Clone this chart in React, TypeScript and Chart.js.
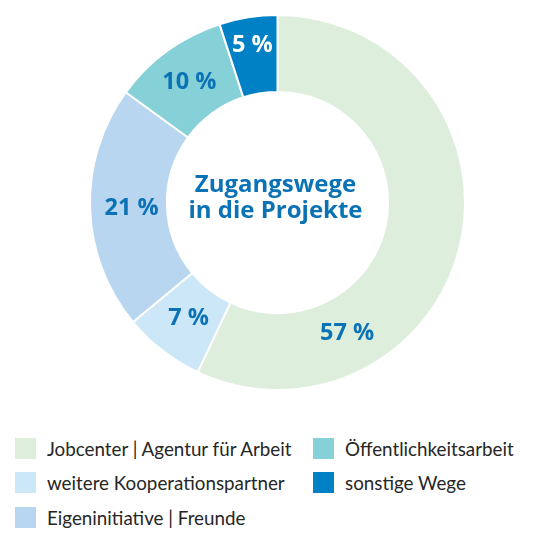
import React, { useEffect, useRef } from "react";
import { Chart, registerables } from "chart.js";

Chart.register(...registerables);

const categories = [
  "Jobcenter | Agentur für Arbeit",
  "weitere Kooperationspartner",
  "Eigeninitiative | Freunde",
  "Öffentlichkeitsarbeit",
  "sonstige Wege",
];
const values = [57, 7, 21, 10, 5];
const valueLabels = ["57 %", "7 %", "21 %", "10 %", "5 %"];
const colors = ["#DDEEDC", "#CCE7F7", "#B8D6EF", "#86D0D8", "#0081C6"];
const labelColors = ["#0B72B5", "#0B72B5", "#0B72B5", "#0B72B5", "#FFFFFF"];
const labelAngleFrac = [0.74, 0.5, 0.5, 0.5, 0.5];
const labelRadiusFrac = [0.48, 0.45, 0.46, 0.51, 0.65];
const centerTitle = ["Zugangswege", "in die Projekte"];

const BLUE = "#0B72B5";
const FONT = "'Open Sans', 'Noto Sans', sans-serif";
const LEGEND_FONT = "Lato, 'Open Sans', sans-serif";

const labelPlugin = {
  id: "donutLabels",
  afterDatasetsDraw(chart: any) {
    const ctx = chart.ctx;
    const meta = chart.getDatasetMeta(0);
    ctx.save();
    ctx.textAlign = "center";
    ctx.textBaseline = "middle";
    ctx.font = `bold 23.5px ${FONT}`;
    meta.data.forEach((arc: any, i: number) => {
      const p = arc.getProps(["x", "y", "startAngle", "endAngle", "innerRadius", "outerRadius"], true);
      const a = p.startAngle + (p.endAngle - p.startAngle) * labelAngleFrac[i];
      const r = p.innerRadius + (p.outerRadius - p.innerRadius) * labelRadiusFrac[i];
      ctx.fillStyle = labelColors[i];
      ctx.fillText(valueLabels[i], p.x + Math.cos(a) * r, p.y + Math.sin(a) * r + 1);
    });
    const c = meta.data[0];
    ctx.fillStyle = BLUE;
    ctx.textBaseline = "alphabetic";
    ctx.font = `bold 24px ${FONT}`;
    ctx.fillText(centerTitle[0], c.x - 2, c.y - 11);
    ctx.fillText(centerTitle[1], c.x - 2, c.y + 15.5);
    ctx.restore();
  },
};

export default function App() {
  const ref = useRef<HTMLCanvasElement | null>(null);
  useEffect(() => {
    if (!ref.current) return;
    const chart = new Chart(ref.current, {
      type: "doughnut",
      data: {
        labels: categories,
        datasets: [
          {
            data: values,
            backgroundColor: colors,
            borderColor: "#FFFFFF",
            borderWidth: 2,
          },
        ],
      },
      options: {
        responsive: false,
        animation: false,
        cutout: "59%",
        rotation: 0,
        layout: { padding: 14 },
        plugins: {
          legend: { display: false },
          tooltip: { enabled: false },
        },
      },
      plugins: [labelPlugin],
    });
    return () => chart.destroy();
  }, []);

  return (
    <div style={{ position: "absolute", left: 0, top: 0, width: 551, height: 541, background: "#fff", overflow: "hidden" }}>
      <canvas ref={ref} width={555} height={405} style={{ position: "absolute", left: 0, top: 0 }} />
      <div
        style={{
          position: "absolute",
          left: 15,
          top: 431,
          display: "grid",
          gridAutoFlow: "column",
          gridTemplateRows: "repeat(3, 34.5px)",
          gridTemplateColumns: "298px auto",
          fontFamily: LEGEND_FONT,
          fontSize: 18.8,
          color: "#262626",
        }}
      >
        {categories.map((c, i) => (
          <div key={c} style={{ display: "flex", alignItems: "center", height: 34.5 }}>
            <span style={{ display: "inline-block", width: 21, height: 21, background: colors[i], marginRight: 11, flexShrink: 0 }} />
            <span style={{ whiteSpace: "nowrap" }}>{c}</span>
          </div>
        ))}
      </div>
    </div>
  );
}
